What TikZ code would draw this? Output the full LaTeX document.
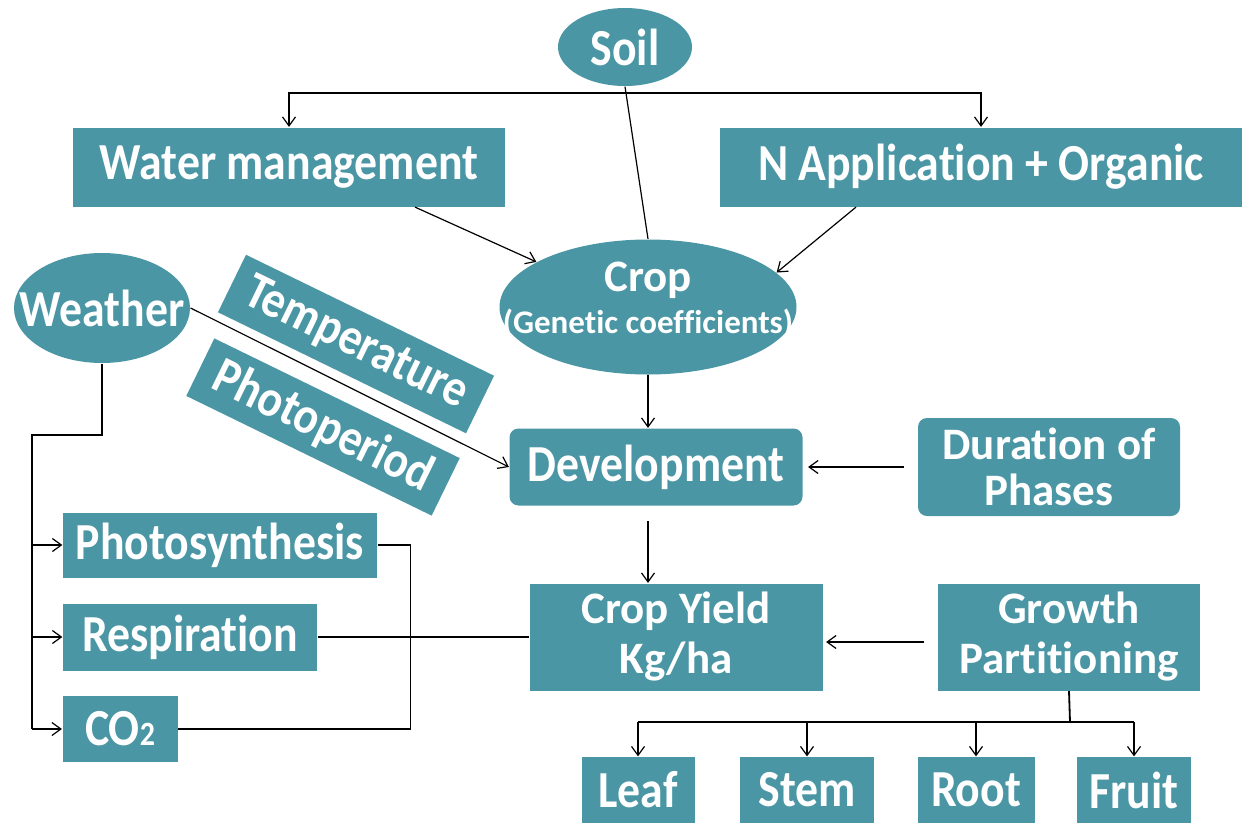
\documentclass[tikz,border=0pt]{standalone}
\usepackage{fontspec}
\setmainfont{Carlito}[Ligatures=NoCommon]
\newfontfamily\narrowfont{Carlito}[FakeStretch=0.88,Ligatures=NoCommon]
\usetikzlibrary{shapes.geometric,arrows.meta}
\definecolor{cropteal}{RGB}{74,150,164}

\begin{document}
\begin{tikzpicture}[x=1pt,y=-1pt,line width=1.2pt,>={Straight Barb[length=9pt,width=13pt]}]
        \tikzstyle{every node} = [fill=cropteal,text=white,inner sep=0pt,align=center,font=\narrowfont\fontsize{52}{58}\selectfont\bfseries]
        \tikzstyle{twoline} = [font=\normalfont\fontsize{45}{50}\selectfont\bfseries]
        \tikzstyle{box} = [rectangle]
        \tikzstyle{rbox} = [rectangle,rounded corners=9pt]
        \tikzstyle{oval} = [ellipse]
        \tikzstyle{tilted} = [rectangle,rotate=-26,minimum height=64pt]
        \useasboundingbox (0,0) rectangle (1242,823);
        \node[oval,minimum width=134pt,minimum height=78pt] (soil) at (625,47) {Soil};
        \node[box,minimum width=432pt,minimum height=79pt] (water) at (289,167) {Water management};
        \node[box,minimum width=522pt,minimum height=79pt] (napp) at (981,167) {N Application + Organic};
        \node[oval,minimum width=297pt,minimum height=135pt] (crop) at (648,307) {};
        \node[twoline,fill=none] (croptext) at (648,300) {Crop\\[-8pt]{\fontsize{33}{33}\selectfont (Genetic coefficients)}};
        \node[oval,minimum width=176pt,minimum height=110pt] (weather) at (102,308) {\makebox[0pt]{Weather}};
        \node[tilted,minimum width=276pt] (temp) at (356,344) {Temperature};
        \node[tilted,minimum width=273pt] (photop) at (323,427) {Photoperiod};
        \node[rbox,minimum width=293pt,minimum height=77pt] (dev) at (656,467) {Development};
        \node[rbox,twoline,minimum width=262pt,minimum height=98pt,font=\normalfont\fontsize{45}{46}\selectfont\bfseries] (dur) at (1049,467) {Duration of\\Phases};
        \node[box,minimum width=314pt,minimum height=65pt] (photo) at (220,545) {Photosynthesis};
        \node[box,minimum width=254pt,minimum height=67pt] (resp) at (190,637) {Respiration};
        \node[box,minimum width=115pt,minimum height=66pt] (co2) at (120,729) {CO{\fontsize{34}{34}\selectfont 2}};
        \node[box,twoline,minimum width=293pt,minimum height=107pt] (yield) at (676,637) {Crop Yield\\Kg/ha};
        \node[box,twoline,minimum width=262pt,minimum height=107pt] (growth) at (1069,637) {Growth\\Partitioning};
        \node[box,minimum width=113pt,minimum height=66pt] (leaf) at (638,790) {Leaf};
        \node[box,minimum width=134pt,minimum height=66pt] (stem) at (807,790) {Stem};
        \node[box,minimum width=117pt,minimum height=66pt] (root) at (976,790) {Root};
        \node[box,minimum width=114pt,minimum height=66pt] (fruit) at (1134,790) {Fruit};
        \coordinate (sbus) at (625,93);
        \coordinate (wbus) at (32,435);
        \coordinate (gbus) at (1070,722);
        \draw (soil.south) -- (crop.north);
        \foreach \to in {water, napp}
            \draw[->] (sbus) -| (\to);
        \draw[->] ([xshift=126pt]water.south) -- (crop.158);
        \draw[->] ([xshift=-125pt]napp.south) -- (crop.15);
        \draw[->] (weather.east) -- (dev.west);
        \draw[->] (crop.south) -- (crop.south |- dev.north);
        \draw[->] ([yshift=-15pt]dev.south -| crop.south) -- (yield.north -| crop.south);
        \draw[->] ([xshift=-13pt]dur.west) -- ([xshift=5pt]dev.east);
        \draw[->] ([xshift=-13pt,yshift=-5pt]growth.west) -- ([xshift=3pt,yshift=-5pt]yield.east);
        \draw[line width=1.8pt] (weather.south) |- (wbus) -- (wbus |- co2.west);
        \foreach \to in {photo, resp, co2}
            \draw[->] (wbus |- \to.west) -- (\to.west);
        \draw (photo.east) -- ++(33,0) |- (co2.east);
        \draw (resp.east) -- (yield.west);
        \draw[line width=1.8pt] (growth.south) -- (gbus);
        \draw (leaf.north |- gbus) -- (fruit.north |- gbus);
        \foreach \to in {leaf, stem, root, fruit}
            \draw[->] (\to.north |- gbus) -- (\to.north);
\end{tikzpicture}
\end{document}
